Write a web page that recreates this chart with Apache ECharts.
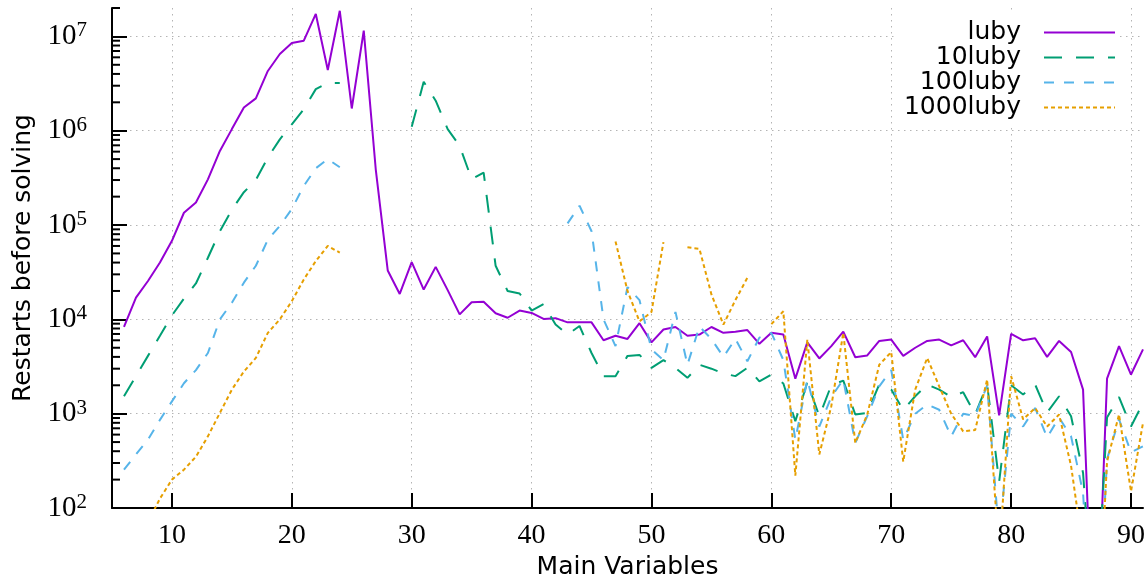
<!DOCTYPE html>
<html>
<head>
<meta charset="utf-8">
<script src="https://cdn.jsdelivr.net/npm/echarts@6/dist/echarts.min.js"></script>
<style>
html, body { margin: 0; padding: 0; background: #fff; }
#chart { width: 1148px; height: 578px; }
</style>
</head>
<body>
<div id="chart"></div>
<script>
// x values (main variables)
const mainVars = [6, 7, 8, 9, 10, 11, 12, 13, 14, 15, 16, 17, 18, 19, 20, 21, 22, 23, 24, 25,
    26, 27, 28, 29, 30, 31, 32, 33, 34, 35, 36, 37, 38, 39, 40, 41, 42, 43, 44, 45,
    46, 47, 48, 49, 50, 51, 52, 53, 54, 55, 56, 57, 58, 59, 60, 61, 62, 63, 64, 65,
    66, 67, 68, 69, 70, 71, 72, 73, 74, 75, 76, 77, 78, 79, 80, 81, 82, 83, 84, 85,
    86, 87, 88, 89, 90, 91];

const luby = [8300, 17000, 25500, 40000, 68000, 135000, 173000, 305000, 610000, 1040000,
    1760000, 2200000, 4300000, 6500000, 8500000, 9000000, 17300000, 4400000, 18700000, 1720000,
    11500000, 390000, 33000, 18600, 40500, 20700, 36000, 20400, 11300, 15200,
    15400, 11600, 10400, 12400, 11700, 10100, 10300, 9300, 9300, 9300,
    6000, 6700, 6200, 9100, 5700, 7800, 8300, 6700, 6900, 8300,
    7200, 7400, 7700, 5500, 7200, 6900, 2350, 5700, 3850, 5200,
    7400, 3970, 4140, 5900, 6100, 4100, 5000, 5900, 6100, 5300,
    6000, 3970, 6600, 960, 7000, 6000, 6300, 4000, 5900, 4500,
    1800, 1, 2350, 5200, 2600, 4800];

const luby10 = [1530, 2500, 4100, 6700, 11000, 16600, 24000, 45000, 86000, 145000,
    223000, 300000, 520000, 810000, 1170000, 1690000, 2760000, 3200000, 3200000, null,
    null, null, null, null, 1100000, 3300000, 2080000, 1040000, 690000, 306000,
    360000, 37000, 20000, 18800, 12400, 14500, 8800, 6900, 8500, 4400,
    2500, 2500, 4100, 4200, 3060, 3700, 3060, 2400, 3300, 3000,
    2670, 2500, 3060, 2200, 2600, 2090, 830, 2150, 940, 2000,
    2240, 980, 1020, 2040, 1800, 1090, 1530, 2040, 1800, 1500,
    1690, 980, 2040, 190, 2000, 1600, 2040, 1030, 1530, 940,
    235, 4, 910, 1500, 730, 1300];

const luby100 = [255, 370, 530, 860, 1350, 2100, 2900, 4400, 10000, 15000,
    24500, 37000, 70000, 98000, 148000, 260000, 400000, 500000, 410000, null,
    null, null, null, null, null, null, null, null, null, null,
    null, null, null, null, null, null, null, 104000, 160000, 86000,
    10000, 5200, 22000, 16000, 4800, 3700, 12000, 3300, 8400, 6200,
    4000, 6200, 3600, 6400, 7200, 3700, 530, 2300, 730, 1500,
    2300, 490, 940, 1950, 2900, 530, 1000, 1250, 1100, 575,
    1000, 940, 2000, 50, 1000, 730, 1150, 560, 910, 575,
    145, 1, 330, 870, 390, 450];

const luby1000 = [null, null, 70, 126, 200, 255, 350, 575, 1020, 1800,
    2800, 3900, 7200, 10000, 15600, 26500, 41500, 60000, 51000, null,
    null, null, null, null, null, null, null, null, null, null,
    null, null, null, null, null, null, null, null, null, null,
    null, 67000, 20000, 9500, 12000, 66000, null, 58000, 56000, 18400,
    8800, 16000, 27600, null, 8900, 12200, 220, 6100, 370, 1200,
    7200, 490, 980, 3300, 4500, 310, 1800, 3900, 1950, 1000,
    650, 670, 2300, 30, 2500, 870, 1150, 730, 980, 280,
    36, 1, 310, 980, 150, 800];

const seriesNames = ['luby', '10luby', '100luby', '1000luby'];
const seriesValues = [luby, luby10, luby100, luby1000];
const xTicks = [10, 20, 30, 40, 50, 60, 70, 80, 90];
const yTicks = [1e2, 1e3, 1e4, 1e5, 1e6, 1e7];

const xMin = 5, xMax = 91, yMin = 1e2, yMax = 2e7;

const colors = ['#9400d3', '#009e73', '#56b4e9', '#e69f00'];
const dashes = ['solid', [18, 14], [10, 10], [4, 3]];

// minor ticks on the log axis (2..9 x 10^n)
const minorTicks = [];
for (let e = 2; e <= 7; e++) {
    for (let m = 2; m <= 9; m++) {
        const v = m * Math.pow(10, e);
        if (v <= yMax) minorTicks.push([xMin, v]);
    }
}

const gridLine = { show: true, lineStyle: { color: '#b4b4b4', width: 1, type: [1.5, 4.5] } };

const series = seriesNames.map((name, i) => ({
    name: name,
    type: 'line',
    data: mainVars.map((x, k) => [x, seriesValues[i][k]]),
    symbol: 'none',
    showSymbol: false,
    connectNulls: false,
    lineStyle: { color: colors[i], width: 2, type: dashes[i] },
    itemStyle: { color: colors[i] },
    z: 3 + i
}));

series.push({
    type: 'custom',
    silent: true,
    clip: false,
    z: 10,
    data: minorTicks,
    renderItem: (params, api) => {
        const p = api.coord([api.value(0), api.value(1)]);
        return {
            type: 'line',
            shape: { x1: p[0], y1: p[1], x2: p[0] + 8, y2: p[1] },
            style: { stroke: '#000', lineWidth: 2 }
        };
    }
});

const option = {
    animation: false,
    backgroundColor: '#fff',
    grid: { left: 112, right: 5, top: 8, bottom: 70, containLabel: false, outerBoundsMode: 'none' },
    legend: {
        data: seriesNames,
        orient: 'vertical',
        right: 30,
        top: 14,
        align: 'right',
        itemWidth: 71,
        itemHeight: 14,
        itemGap: 0,
        backgroundColor: '#fff',
        padding: [6, 2, 6, 10],
        selectedMode: false,
        itemStyle: { opacity: 0 },
        textStyle: {
            fontFamily: 'DejaVu Sans',
            fontSize: 25,
            color: '#000',
            lineHeight: 23.5,
            padding: [0, 18, 0, 0]
        }
    },
    xAxis: {
        type: 'value',
        min: xMin,
        max: xMax,
        name: 'Main Variables',
        nameLocation: 'middle',
        nameGap: 46,
        nameTextStyle: { fontFamily: 'DejaVu Sans', fontSize: 25, color: '#000' },
        axisLine: { onZero: false, lineStyle: { color: '#000', width: 2 } },
        axisTick: { inside: true, length: 15, lineStyle: { color: '#000', width: 2 }, customValues: xTicks },
        axisLabel: {
            customValues: xTicks,
            margin: 14,
            fontFamily: 'Liberation Serif',
            fontSize: 28,
            color: '#000'
        },
        splitLine: gridLine
    },
    yAxis: {
        type: 'log',
        logBase: 10,
        min: yMin,
        max: yMax,
        name: 'Restarts before solving',
        nameLocation: 'middle',
        nameGap: 76,
        nameTextStyle: { fontFamily: 'DejaVu Sans', fontSize: 25, color: '#000' },
        axisLine: { show: true, onZero: false, lineStyle: { color: '#000', width: 2 } },
        axisTick: { inside: true, length: 15, lineStyle: { color: '#000', width: 2 }, customValues: yTicks },
        axisLabel: {
            customValues: yTicks,
            margin: 25,
            formatter: (v) => '{b|10}{s|' + Math.round(Math.log10(v)) + '}',
            rich: {
                b: { fontFamily: 'Liberation Serif', fontSize: 29, color: '#000', lineHeight: 32 },
                s: { fontFamily: 'Liberation Serif', fontSize: 21, color: '#000', lineHeight: 21, verticalAlign: 'top' }
            }
        },
        splitLine: gridLine
    },
    series: series
};

const chart = echarts.init(document.getElementById('chart'));
chart.setOption(option);
</script>
</body>
</html>
